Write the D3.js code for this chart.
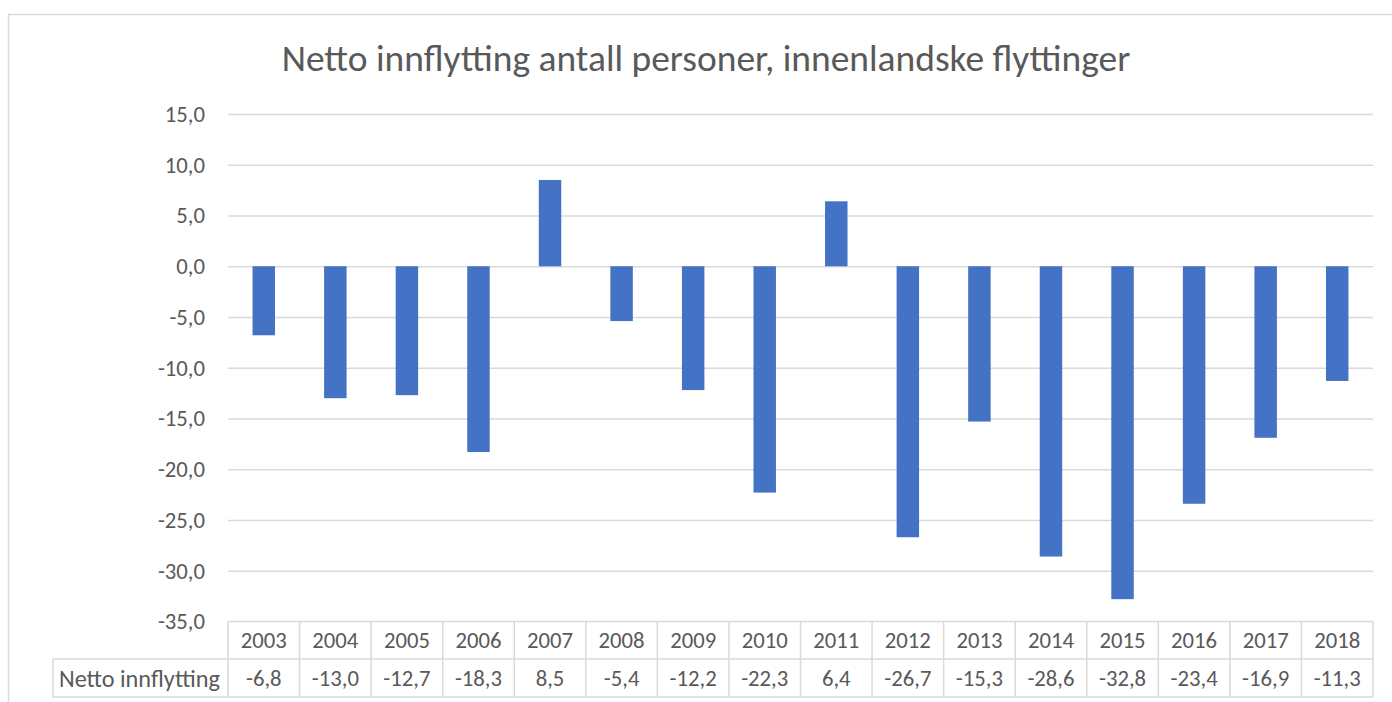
<!DOCTYPE html>
<html><head><meta charset="utf-8">
<script src="https://cdn.jsdelivr.net/npm/d3@7"></script>
<style>body{margin:0;background:#fff;}svg{display:block;}</style>
</head><body>
<script>
const title = "Netto innflytting antall personer, innenlandske flyttinger";
const seriesName = "Netto innflytting";
const years = ["2003","2004","2005","2006","2007","2008","2009","2010","2011","2012","2013","2014","2015","2016","2017","2018"];
const values = [-6.8,-13.0,-12.7,-18.3,8.5,-5.4,-12.2,-22.3,6.4,-26.7,-15.3,-28.6,-32.8,-23.4,-16.9,-11.3];
const yTicks = [15,10,5,0,-5,-10,-15,-20,-25,-30,-35];

(function(){
const W = 1392, H = 702;
const FONT = "Carlito, Calibri, Lato, 'Open Sans', sans-serif";
const TXT = "#595959", GRID = "#d9d9d9", BAR = "#4472C4";
const fmt = v => d3.format(".1f")(v).replace(".", ",").replace("−","-");

const svg = d3.select("body").append("svg").attr("width", W).attr("height", H);

function fit(text, target) {
  const t = svg.append("text").attr("font-family", FONT).attr("font-size", 100).text(text);
  const w = t.node().getComputedTextLength();
  t.remove();
  return 100 * target / w;
}
const fsTitle = fit(title, 849);
const fs = fit("2003", 46);
const fsLabel = fit(seriesName, 161);

// chart border
svg.append("rect").attr("x", 8.5).attr("y", 14.5).attr("width", W).attr("height", H)
  .attr("fill", "none").attr("stroke", GRID).attr("stroke-width", 1.5);

const pLeft = 228, pRight = 1373, pTop = 114, pBottom = 621.5;
const x = d3.scaleBand().domain(years).range([pLeft, pRight]).paddingInner(0.686).paddingOuter(0.343);
const xc = d3.scaleBand().domain(years).range([pLeft, pRight]);
const y = d3.scaleLinear().domain([-35, 15]).range([pBottom, pTop]);

svg.append("text").attr("x", 706).attr("y", 71).attr("text-anchor", "middle")
  .attr("font-family", FONT).attr("font-size", fsTitle).attr("fill", TXT).text(title);

// gridlines
const yAxis = d3.axisLeft(y).tickValues(yTicks).tickSize(-(pRight - pLeft)).tickPadding(23).tickFormat(fmt);
const ga = svg.append("g").attr("transform", `translate(${pLeft},0)`).call(yAxis);
ga.select(".domain").remove();
ga.selectAll(".tick line").attr("stroke", GRID).attr("stroke-width", 1.3);
ga.selectAll(".tick text").attr("font-family", FONT).attr("font-size", fs).attr("fill", TXT);
ga.selectAll(".tick").filter(d => d === -35).select("line").remove();

// bars
svg.append("g").selectAll("rect").data(values).join("rect")
  .attr("x", (d, i) => x(years[i]))
  .attr("width", x.bandwidth())
  .attr("y", d => y(Math.max(0, d)))
  .attr("height", d => Math.abs(y(d) - y(0)))
  .attr("fill", BAR);

// data table
const r1 = pBottom, r2 = 659, r3 = 697, labelLeft = 53;
const tb = svg.append("g").attr("stroke", GRID).attr("stroke-width", 1.5);
tb.append("line").attr("x1", pLeft).attr("x2", pRight).attr("y1", r1).attr("y2", r1);
tb.append("line").attr("x1", labelLeft).attr("x2", pRight).attr("y1", r2).attr("y2", r2);
tb.append("line").attr("x1", labelLeft).attr("x2", pRight).attr("y1", r3).attr("y2", r3);
tb.append("line").attr("x1", labelLeft).attr("x2", labelLeft).attr("y1", r2).attr("y2", r3);
const bounds = years.map(d => xc(d)).concat([pRight]);
tb.selectAll(".v").data(bounds).join("line").attr("class", "v")
  .attr("x1", d => d).attr("x2", d => d).attr("y1", r1).attr("y2", r3);

const tt = svg.append("g").attr("font-family", FONT).attr("font-size", fs).attr("fill", TXT).attr("text-anchor", "middle");
tt.selectAll(".yr").data(years).join("text").attr("class", "yr")
  .attr("x", d => xc(d) + xc.bandwidth() / 2).attr("y", (r1 + r2) / 2).attr("dy", "0.35em").text(d => d);
tt.selectAll(".val").data(values).join("text").attr("class", "val")
  .attr("x", (d, i) => xc(years[i]) + xc.bandwidth() / 2).attr("y", (r2 + r3) / 2).attr("dy", "0.35em").text(fmt);
tt.append("text").attr("text-anchor", "start").attr("x", 59).attr("y", (r2 + r3) / 2).attr("dy", "0.35em")
  .attr("font-size", fsLabel).text(seriesName);
})();
</script>
</body></html>
